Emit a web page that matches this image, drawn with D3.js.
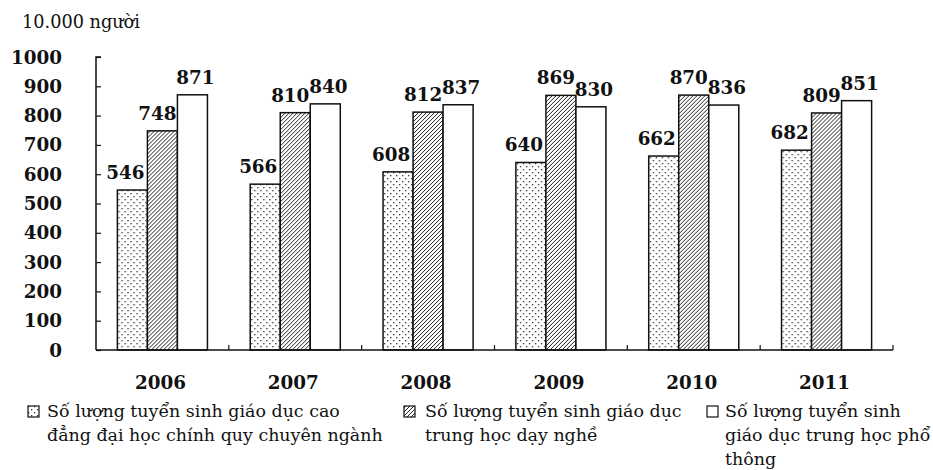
<!DOCTYPE html>
<html>
<head>
<meta charset="utf-8">
<script src="https://cdn.jsdelivr.net/npm/d3@7"></script>
<style>
  html, body { margin: 0; padding: 0; background: #fff; }
  svg { display: block; }
</style>
</head>
<body>
<svg id="chart" width="933" height="470"></svg>
<script>
const years = ["2006", "2007", "2008", "2009", "2010", "2011"];
const caoDang = [546, 566, 608, 640, 662, 682];
const dayNghe = [748, 810, 812, 869, 870, 809];
const phoThong = [871, 840, 837, 830, 836, 851];
const yTicks = [0, 100, 200, 300, 400, 500, 600, 700, 800, 900, 1000];
const unitLabel = "10.000 người";
const legendLabels = [
  ["Số lượng tuyển sinh giáo dục cao", "đẳng đại học chính quy chuyên ngành"],
  ["Số lượng tuyển sinh giáo dục", "trung học dạy nghề"],
  ["Số lượng tuyển sinh", "giáo dục trung học phổ", "thông"]
];

(function () {
const series = [caoDang, dayNghe, phoThong];
const fills = ["url(#dots)", "url(#hatch)", "#fff"];
const labelDx = [-7, -5, 3];

const svg = d3.select("#chart");
const defs = svg.append("defs");

// dotted pattern
const dots = defs.append("pattern").attr("id", "dots")
  .attr("patternUnits", "userSpaceOnUse").attr("width", 6).attr("height", 6);
dots.append("rect").attr("width", 6).attr("height", 6).attr("fill", "#fff");
dots.append("rect").attr("x", 1).attr("y", 1).attr("width", 1.3).attr("height", 1.3).attr("fill", "#333");
dots.append("rect").attr("x", 4).attr("y", 4).attr("width", 1.3).attr("height", 1.3).attr("fill", "#333");

// diagonal hatch pattern
const hatch = defs.append("pattern").attr("id", "hatch")
  .attr("patternUnits", "userSpaceOnUse").attr("width", 4).attr("height", 4);
hatch.append("rect").attr("width", 4).attr("height", 4).attr("fill", "#fff");
hatch.append("path").attr("d", "M-1,1 l2,-2 M0,4 l4,-4 M3,5 l2,-2")
  .attr("stroke", "#222").attr("stroke-width", 1);

const mLeft = 96, mRight = 893, mTop = 57, mBottom = 350;

const y = d3.scaleLinear().domain([0, 1000]).range([mBottom, mTop]);
const x = d3.scaleBand().domain(years).range([mLeft, mRight])
  .paddingInner(0.322).paddingOuter(0.161);
const xs = d3.scaleBand().domain([0, 1, 2]).range([0, x.bandwidth()]);

const fontFam = "'DejaVu Serif', serif";

// helper: find font size so text reaches a target width
function fitSize(str, target, weight) {
  const t = svg.append("text").attr("font-family", fontFam)
    .attr("font-weight", weight || "normal").attr("font-size", 20).text(str);
  const w = t.node().getComputedTextLength();
  t.remove();
  return 20 * target / w;
}

// Unit label
svg.append("text").attr("x", 22).attr("y", 28)
  .attr("font-family", fontFam).attr("font-size", fitSize(unitLabel, 118))
  .attr("fill", "#111").text(unitLabel);

const boldSize = fitSize("1000", 51, "bold");

// Y tick labels
svg.append("g").selectAll("text").data(yTicks).join("text")
  .attr("x", 62).attr("y", d => y(d)).attr("dy", "0.36em")
  .attr("text-anchor", "end")
  .attr("font-family", fontFam).attr("font-weight", "bold").attr("font-size", boldSize)
  .attr("fill", "#111").text(d => d);

// Bars
const groups = svg.append("g").selectAll("g").data(years).join("g")
  .attr("transform", d => `translate(${x(d)},0)`);

groups.selectAll("rect").data((d, i) => series.map((s, k) => ({ k, v: s[i] }))).join("rect")
  .attr("x", d => xs(d.k))
  .attr("y", d => y(d.v))
  .attr("width", xs.bandwidth())
  .attr("height", d => y(0) - y(d.v))
  .attr("fill", d => fills[d.k])
  .attr("stroke", "#111").attr("stroke-width", 1.5);

// Value labels
groups.selectAll("text").data((d, i) => series.map((s, k) => ({ k, v: s[i] }))).join("text")
  .attr("x", d => xs(d.k) + xs.bandwidth() / 2 + labelDx[d.k])
  .attr("y", d => y(d.v) - 11)
  .attr("text-anchor", "middle")
  .attr("font-family", fontFam).attr("font-weight", "bold").attr("font-size", boldSize)
  .attr("fill", "#111").text(d => d.v);

// Y axis (ticks inward)
const yAxis = svg.append("g").attr("transform", `translate(${mLeft},0)`)
  .call(d3.axisRight(y).tickValues(yTicks).tickSize(5).tickFormat(""));
yAxis.select(".domain").attr("d", `M5,${mTop}H0V${mBottom}`).attr("stroke", "#111").attr("stroke-width", 1.5);
yAxis.selectAll(".tick line").attr("stroke", "#111").attr("stroke-width", 1.2);

// X axis with boundary ticks pointing up
const step = x.step();
const boundaries = d3.range(years.length + 1).map(i => mLeft + i * step);
svg.append("line").attr("x1", mLeft).attr("x2", mRight).attr("y1", mBottom).attr("y2", mBottom)
  .attr("stroke", "#111").attr("stroke-width", 1.5);
svg.append("g").selectAll("line").data(boundaries.slice(1)).join("line")
  .attr("x1", d => d).attr("x2", d => d)
  .attr("y1", mBottom).attr("y2", mBottom - 5)
  .attr("stroke", "#111").attr("stroke-width", 1.2);

// X labels
svg.append("g").selectAll("text").data(years).join("text")
  .attr("x", d => x(d) + x.bandwidth() / 2 - 2)
  .attr("y", 382).attr("dy", "0.36em")
  .attr("text-anchor", "middle")
  .attr("font-family", fontFam).attr("font-weight", "bold").attr("font-size", boldSize)
  .attr("fill", "#111").text(d => d);

// Legend
const legendSize = fitSize(legendLabels[0][1], 336);
const legendX = [[28, 47], [404, 425], [707, 725]];
const legend = svg.append("g").selectAll("g").data(legendLabels).join("g");
legend.append("rect")
  .attr("x", (d, i) => legendX[i][0]).attr("y", 406)
  .attr("width", 11).attr("height", 11)
  .attr("fill", (d, i) => fills[i]).attr("stroke", "#111").attr("stroke-width", 1.2);
legend.each(function(lines, i) {
  d3.select(this).selectAll("text").data(lines).join("text")
    .attr("x", legendX[i][1])
    .attr("y", (d, j) => 417 + j * 24)
    .attr("font-family", fontFam).attr("font-size", legendSize)
    .attr("fill", "#111").text(d => d);
});
})();
</script>
</body>
</html>
